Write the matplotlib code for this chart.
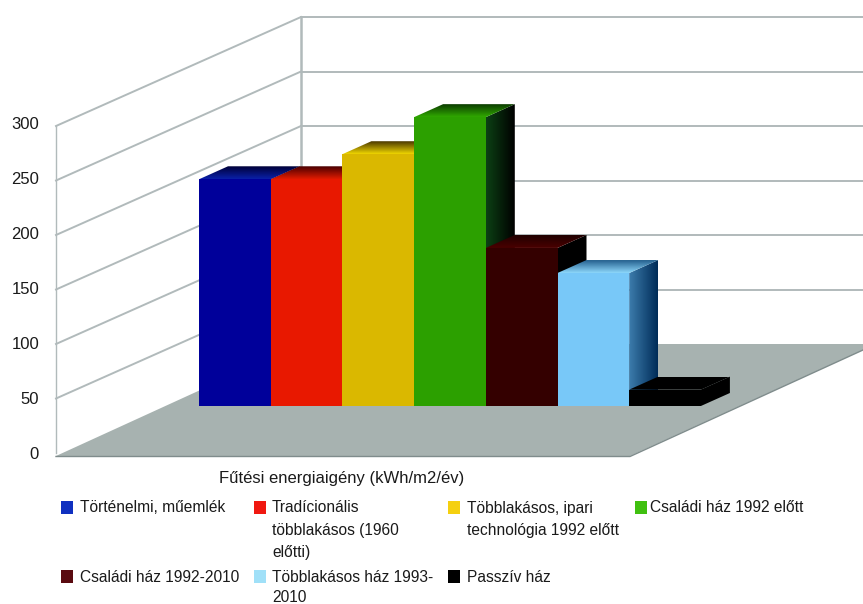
import numpy as np
import matplotlib
matplotlib.use('Agg')
import matplotlib.pyplot as plt
from matplotlib.colors import LinearSegmentedColormap
from matplotlib.patches import Polygon

plt.rcParams['font.family'] = ['Liberation Sans', 'DejaVu Sans']

# values
categories = ['Történelmi, műemlék', 'Tradícionális\ntöbblakásos (1960\nelőtti)',
              'Többlakásos, ipari\ntechnológia 1992 előtt', 'Családi ház 1992 előtt',
              'Családi ház 1992-2010', 'Többlakásos ház 1993-\n2010', 'Passzív ház']
values = [208, 208, 231, 265, 145, 122, 15]
ticks = [0, 50, 100, 150, 200, 250, 300]
xlabel = 'Fűtési energiaigény (kWh/m2/év)'

front_colors = ['#00009a', '#e81800', '#dab800', '#2ca000', '#340000', '#78c8f8', '#000000']
top_colors = [('#0a20a8', '#000038'), ('#e01a00', '#480000'), ('#eed400', '#4a3800'),
              ('#30a800', '#0c3c00'), ('#4a0000', '#200000'), ('#8cd6fa', '#24608e'),
              ('#000000', '#000000')]
side_colors = [('#000050', '#000020'), ('#700000', '#200000'), ('#705c00', '#201800'),
               ('#0c4014', '#000000'), ('#000000', '#000000'), ('#3c7cac', '#002c58'),
               ('#000000', '#000000')]
legend_colors = ['#1030c0', '#f01810', '#f5d010', '#40c010', '#5a0a10', '#a0e0f8', '#000000']

# pixel layout of the fake 3d box
PX = 54.5 / 50
LEFT, BOTTOM = 56, 453
BACK_X, BACK_Y = 301, 344
BAR_X, BAR_W, BAR_BASE = 199, 71.7, 406
DEPTH_X, DEPTH_Y = 29, 13
WALL = '#b1babb'


def gradient(ax, pts, c0, c1, zorder, horizontal=True):
    """fills a polygon with a two colour gradient"""
    pts = np.array(pts, dtype=float)
    cmap = LinearSegmentedColormap.from_list('g', [c0, c1])
    grad = np.linspace(0, 1, 64)
    grad = grad.reshape(1, -1) if horizontal else grad.reshape(-1, 1)
    im = ax.imshow(grad, cmap=cmap, aspect='auto', interpolation='bilinear', zorder=zorder,
                   extent=[pts[:, 0].min(), pts[:, 0].max(), pts[:, 1].max(), pts[:, 1].min()])
    clip = Polygon(pts, transform=ax.transData, fill=False, edgecolor='none')
    ax.add_patch(clip)
    im.set_clip_path(clip)


fig = plt.figure(figsize=(8.63, 6.04), dpi=100)
ax = fig.add_axes([0, 0, 1, 1])

# walls
for v in ticks:
    y = BOTTOM - v * PX
    by = BACK_Y - v * PX
    if v > 0:
        ax.plot([LEFT, BACK_X], [y, by], color=WALL, lw=1.4, zorder=1)
        ax.plot([BACK_X, 863], [by, by], color=WALL, lw=1.4, zorder=1)
    ax.text(39, 454.5 - v * 1.1, str(v), ha='right', va='center', fontsize=12, color='#1a1a1a')
ax.plot([BACK_X, BACK_X], [BACK_Y, BACK_Y - 300 * PX], color=WALL, lw=1.8, zorder=1)
ax.plot([LEFT, LEFT], [BOTTOM, BOTTOM - 300 * PX], color=WALL, lw=1, zorder=1)

# floor
ax.add_patch(Polygon([(LEFT, 456), (BACK_X, BACK_Y), (863, BACK_Y), (863, 350), (630, 456)],
                     facecolor='#a7b2b0', edgecolor='none', zorder=2))
ax.plot([LEFT, 630, 863], [456.5, 456.5, 350], color='#7f8c8c', lw=1, zorder=2)

# bars, left to right so each one covers the side of the previous
for i, v in enumerate(values):
    z = 3 + i
    x0 = BAR_X + i * BAR_W
    x1 = x0 + BAR_W
    top = BAR_BASE - v * PX
    gradient(ax, [(x1, BAR_BASE), (x1 + DEPTH_X, BAR_BASE - DEPTH_Y),
                  (x1 + DEPTH_X, top - DEPTH_Y), (x1, top)], *side_colors[i], zorder=z)
    gradient(ax, [(x0, top), (x1, top), (x1 + DEPTH_X, top - DEPTH_Y), (x0 + DEPTH_X, top - DEPTH_Y)],
             top_colors[i][1], top_colors[i][0], zorder=z, horizontal=False)
    ax.add_patch(Polygon([(x0, BAR_BASE), (x1, BAR_BASE), (x1, top), (x0, top)],
                         facecolor=front_colors[i], edgecolor='none', zorder=z))

ax.text(219, 478, xlabel, ha='left', va='center', fontsize=12, color='#1a1a1a')

# legend
legend_x = [61, 254, 448, 635, 61, 254, 448]
legend_y = [508, 508, 508, 508, 577, 577, 577]
legend_dx = [19, 18, 19, 15, 19, 18, 19]
legend_step = [22, 22, 22, 22, 20, 20, 20]
for name, c, lx, ly, dx, step in zip(categories, legend_colors, legend_x, legend_y, legend_dx, legend_step):
    ax.add_patch(plt.Rectangle((lx, ly - 7), 12, 13, facecolor=c, edgecolor='none'))
    for k, line in enumerate(name.split('\n')):
        ax.text(lx + dx, ly + k * step, line, ha='left', va='center', fontsize=11.2, color='#1a1a1a')

ax.set_xlim(0, 863)
ax.set_ylim(604, 0)
ax.axis('off')
fig.savefig('out.png', dpi=100)
